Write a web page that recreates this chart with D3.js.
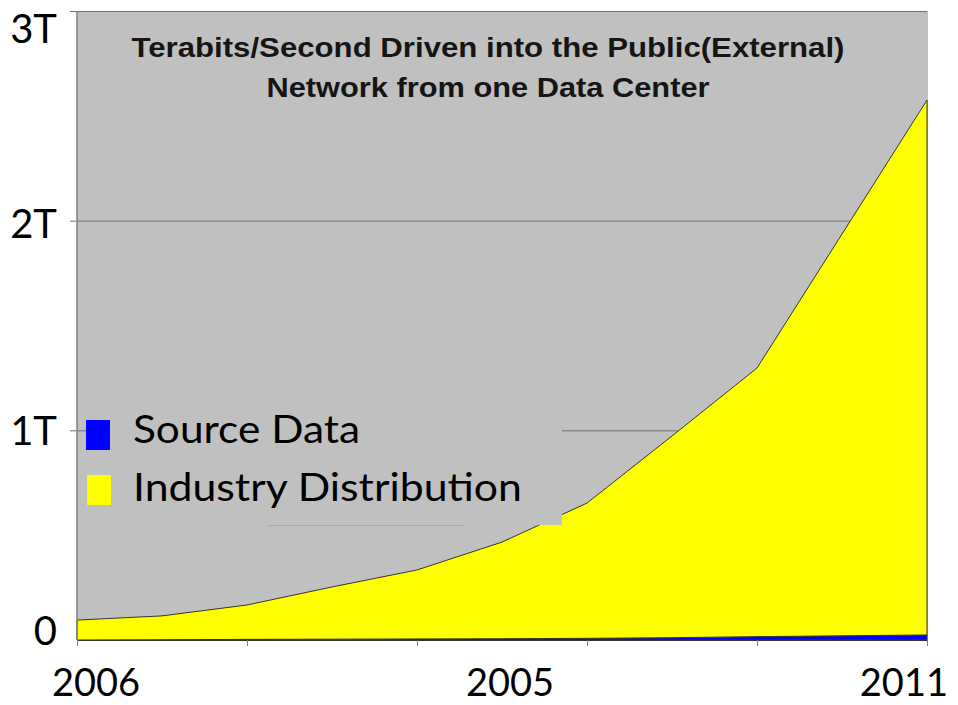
<!DOCTYPE html>
<html>
<head>
<meta charset="utf-8">
<script src="https://cdn.jsdelivr.net/npm/d3@7"></script>
<style>
  body { margin: 0; background: #fff; }
  text { font-family: Lato, "Open Sans", sans-serif; }
</style>
</head>
<body>
<div id="chart"></div>
<script>
// data (terabits/second)
const steps = [0, 1, 2, 3, 4, 5, 6, 7, 8, 9, 10];
const sourceData = [0, 0.001, 0.003, 0.004, 0.005, 0.006, 0.008, 0.011, 0.016, 0.02, 0.024];
const industryData = [0.095, 0.114, 0.164, 0.249, 0.329, 0.461, 0.645, 0.962, 1.281, 1.916, 2.551];
const yTicks = [0, 1, 2, 3];
const yTickLabels = ["0", "1T", "2T", "3T"];
const xLabels = ["2006", "2005", "2011"];
const xLabelSteps = [0, 5, 10];
const seriesNames = ["Source Data", "Industry Distribution"];
const titleLines = ["Terabits/Second Driven into the Public(External)", "Network from one Data Center"];

const width = 958, height = 705;
const plot = {left: 77, right: 927, top: 11, bottom: 640};
const colors = ["#0000ff", "#ffff00"];

const svg = d3.select('#chart')
    .append('svg')
        .attr('width', width)
        .attr('height', height);

const x = d3.scaleLinear().domain([0, 10]).range([plot.left, plot.right]);
const y = d3.scaleLinear().domain([0, 3]).range([plot.bottom, plot.top]);

// plot background
svg.append('rect')
    .attr('x', plot.left).attr('y', plot.top)
    .attr('width', plot.right - plot.left + 1).attr('height', plot.bottom - plot.top)
    .attr('fill', '#c0c0c0');

// gridlines + y ticks
svg.append('g')
    .attr('transform', `translate(${plot.left},0)`)
    .call(d3.axisLeft(y).tickValues(yTicks.slice(1)).tickSize(-(plot.right - plot.left)).tickSizeOuter(0).tickFormat(''))
    .call(g => g.select('.domain').remove())
    .call(g => g.selectAll('.tick line').attr('stroke', '#6f6f6f').attr('x1', -7));

// stacked areas
const table = steps.map((s, i) => ({step: s, source: sourceData[i], industry: industryData[i]}));
const stacked = d3.stack().keys(["source", "industry"])(table);
const area = d3.area()
    .x(d => x(d.data.step))
    .y0(d => y(d[0]))
    .y1(d => y(d[1]));

svg.selectAll('.layer')
    .data(stacked)
    .enter()
    .append('path')
        .attr('class', 'layer')
        .attr('d', area)
        .attr('fill', (d, i) => colors[i])
        .attr('stroke', '#333')
        .attr('stroke-width', 1);

// y axis line
svg.append('line')
    .attr('x1', plot.left).attr('x2', plot.left)
    .attr('y1', plot.top).attr('y2', plot.bottom)
    .attr('stroke', '#808080').attr('stroke-width', 1.5);

// x axis ticks
svg.append('g')
    .attr('transform', `translate(0,${plot.bottom})`)
    .call(d3.axisBottom(x).tickValues([0, 2, 4, 6, 8, 10]).tickSize(6).tickSizeOuter(0).tickFormat(''))
    .call(g => g.select('.domain').attr('stroke', '#333'))
    .call(g => g.selectAll('.tick line').attr('stroke', '#808080'));

// legend box, pasted over the chart
const legend = svg.append('g');
legend.append('rect')
    .attr('x', 86).attr('y', 400)
    .attr('width', 476).attr('height', 125)
    .attr('fill', '#c0c0c0');
legend.append('line')
    .attr('x1', 268).attr('x2', 465)
    .attr('y1', 525.5).attr('y2', 525.5)
    .attr('stroke', '#a8a8a8');
const legendWidths = [227, 389];
seriesNames.forEach((name, i) => {
    legend.append('rect')
        .attr('x', 86 + i).attr('y', 420 + i * 55)
        .attr('width', 24).attr('height', 30)
        .attr('fill', colors[i]);
    legend.append('text')
        .attr('x', 133).attr('y', 443 + i * 58)
        .attr('font-size', 39)
        .attr('textLength', legendWidths[i])
        .attr('lengthAdjust', 'spacingAndGlyphs')
        .attr('fill', '#000')
        .text(name);
});

// title inside the plot
svg.selectAll('.title')
    .data(titleLines)
    .enter()
    .append('text')
        .attr('class', 'title')
        .attr('x', 488)
        .attr('y', (d, i) => 57 + i * 40)
        .attr('text-anchor', 'middle')
        .attr('textLength', (d, i) => i === 0 ? 713 : 443)
        .attr('lengthAdjust', 'spacingAndGlyphs')
        .style('font-family', '"Liberation Sans", Arial, sans-serif')
        .style('font-weight', 'bold')
        .style('font-size', '27px')
        .attr('fill', '#151515')
        .text(d => d);

// y labels
const yNudge = [5, 15, 17, 32];
svg.selectAll('.ylab')
    .data(yTicks)
    .enter()
    .append('text')
        .attr('class', 'ylab')
        .attr('x', 57)
        .attr('y', (d, i) => y(d) + yNudge[i])
        .attr('text-anchor', 'end')
        .attr('font-size', 40)
        .text((d, i) => yTickLabels[i]);

// x labels
const xAnchor = ['start', 'middle', 'end'];
const xNudge = [-25, 8, 21];
svg.selectAll('.xlab')
    .data(xLabels)
    .enter()
    .append('text')
        .attr('class', 'xlab')
        .attr('x', (d, i) => x(xLabelSteps[i]) + xNudge[i])
        .attr('y', 696)
        .attr('text-anchor', (d, i) => xAnchor[i])
        .attr('font-size', 38)
        .text(d => d);
</script>
</body>
</html>
